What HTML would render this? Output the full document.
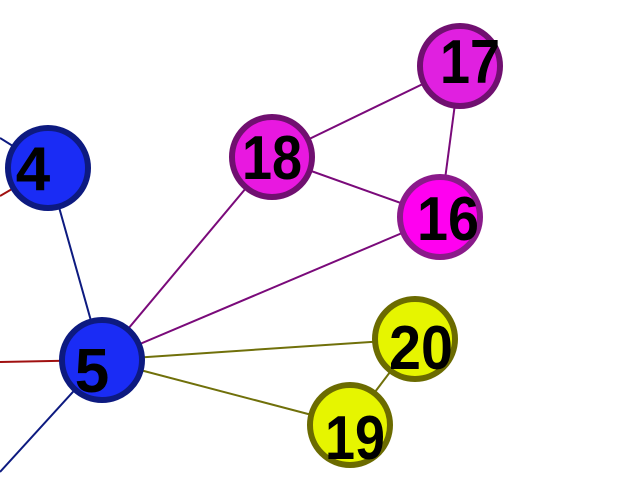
<!DOCTYPE html>
<html><head><style>html,body{margin:0;padding:0;background:#fff;width:640px;height:480px;overflow:hidden}</style></head>
<body>
<svg width="640" height="480" xmlns="http://www.w3.org/2000/svg" style="display:block">
<g stroke-width="2" fill="none">
<line x1="48" y1="168" x2="0" y2="138" stroke="#0d1a80"/>
<line x1="48" y1="168" x2="0" y2="196" stroke="#a01010"/>
<line x1="102" y1="360" x2="0" y2="362" stroke="#a01010"/>
<line x1="102" y1="360" x2="0" y2="472" stroke="#0d1a80"/>
<line x1="48" y1="168" x2="102" y2="360" stroke="#0d1a80"/>
<line x1="102" y1="360" x2="272" y2="157" stroke="#7a0a7a"/>
<line x1="102" y1="360" x2="440" y2="217" stroke="#7a0a7a"/>
<line x1="102" y1="360" x2="415" y2="339" stroke="#70700a"/>
<line x1="102" y1="360" x2="350" y2="425" stroke="#70700a"/>
<line x1="272" y1="157" x2="460" y2="66" stroke="#7a0a7a"/>
<line x1="272" y1="157" x2="440" y2="217" stroke="#7a0a7a"/>
<line x1="460" y1="66" x2="440" y2="217" stroke="#7a0a7a"/>
<line x1="415" y1="339" x2="350" y2="425" stroke="#70700a"/>
</g>
<g stroke-width="6">
<circle cx="48" cy="168" r="40" fill="#1a2cf5" stroke="#0d1a80"/>
<circle cx="102" cy="360" r="40" fill="#1a2cf5" stroke="#0d1a80"/>
<circle cx="272" cy="157" r="40" fill="#e818e0" stroke="#701070"/>
<circle cx="460" cy="66" r="40" fill="#e020e0" stroke="#701070"/>
<circle cx="440" cy="217" r="40" fill="#ff00f0" stroke="#8a1a8a"/>
<circle cx="415" cy="339" r="40" fill="#e6f500" stroke="#6b6b00"/>
<circle cx="350" cy="425" r="40" fill="#e6f500" stroke="#6b6b00"/>
</g>
<g font-family="Liberation Sans, sans-serif" font-weight="bold" font-size="62" fill="#000" text-anchor="middle">
<text x="33" y="190" textLength="30">4</text>
<text x="92" y="392">5</text>
<text x="272" y="179" textLength="60" lengthAdjust="spacingAndGlyphs">18</text>
<text x="470" y="83" textLength="60" lengthAdjust="spacingAndGlyphs">17</text>
<text x="448" y="240" textLength="62" lengthAdjust="spacingAndGlyphs">16</text>
<text x="421" y="369" textLength="64" lengthAdjust="spacingAndGlyphs">20</text>
<text x="355" y="459" textLength="60" lengthAdjust="spacingAndGlyphs">19</text>
</g>
</svg>
</body></html>
